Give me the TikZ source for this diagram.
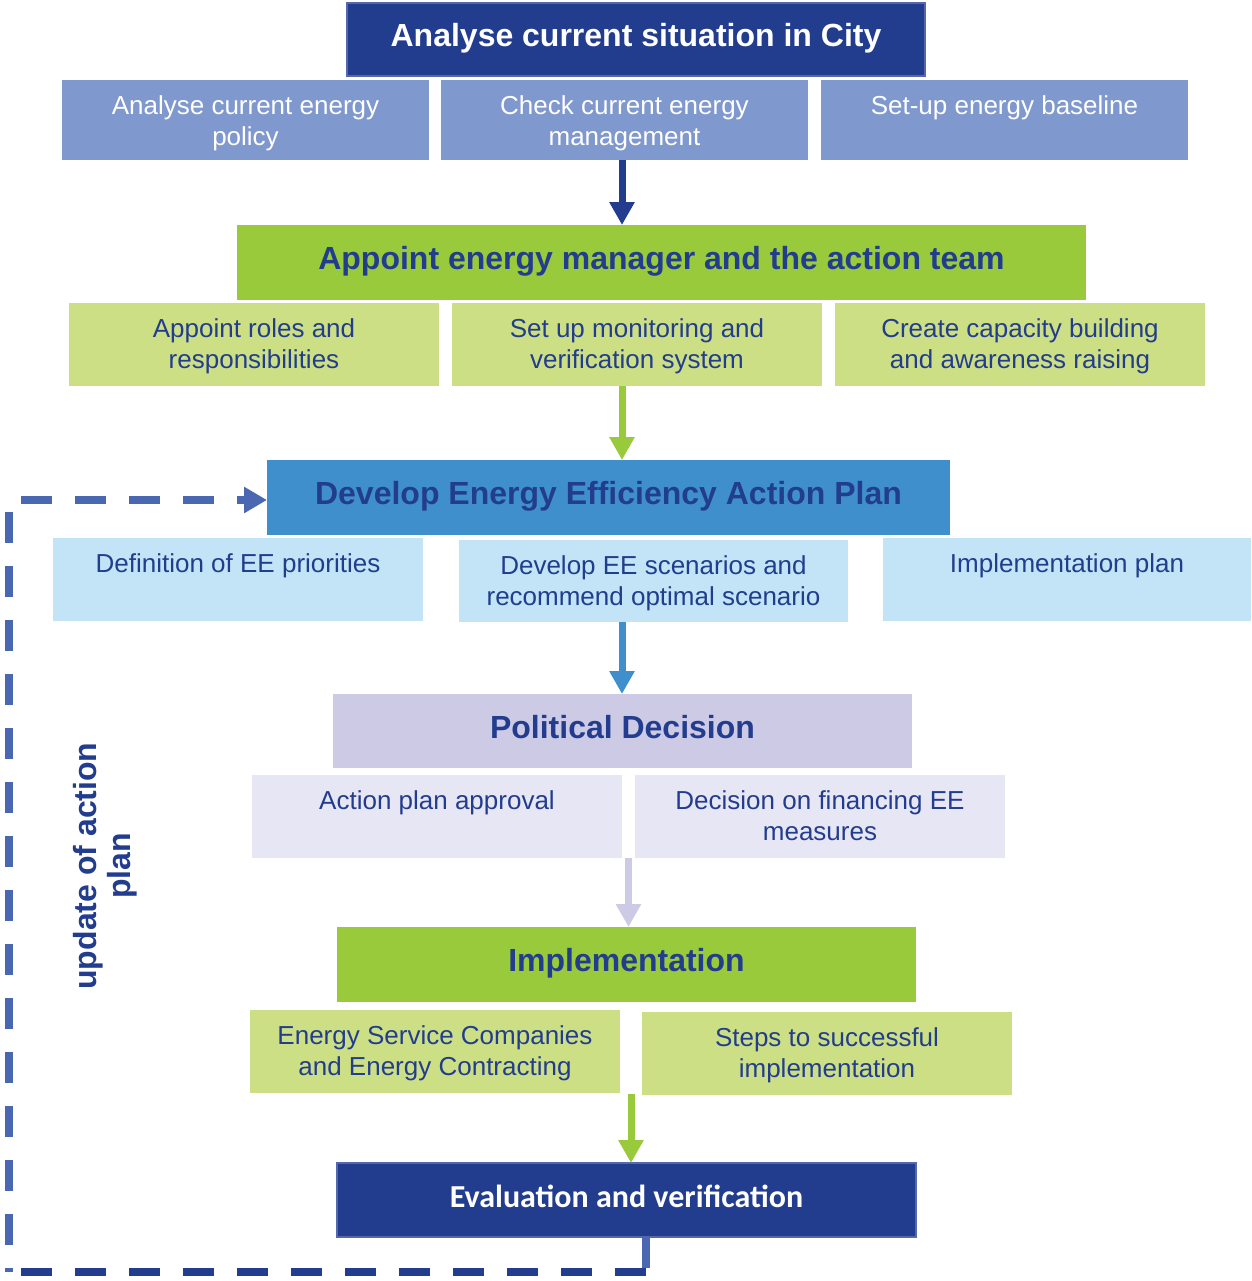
\documentclass[tikz,border=0pt]{standalone}
\usepackage{fontspec}
\setmainfont{Liberation Sans}
\newfontfamily\calfont{Carlito}
\usetikzlibrary{arrows.meta,calc}
\definecolor{navy}{HTML}{233D8E}
\definecolor{navyedge}{HTML}{5468AE}
\definecolor{steel}{HTML}{7F98CD}
\definecolor{leaf}{HTML}{99CA3C}
\definecolor{lightleaf}{HTML}{CCDF84}
\definecolor{sky}{HTML}{3F8FCD}
\definecolor{lightsky}{HTML}{C2E4F6}
\definecolor{lav}{HTML}{CDCAE6}
\definecolor{lightlav}{HTML}{E6E6F4}
\definecolor{loopblue}{HTML}{4A68B2}
\newcommand\subtxt[3]{\parbox[c][#2][t]{#1}{\fontsize{13}{15.5}\selectfont\centering\rule{0pt}{17pt}#3}}
\tikzset{
  mainbox/.style={inner sep=0pt, outer sep=0pt, font=\fontsize{16}{19}\selectfont\bfseries, text=navy, align=center, text height=11.5pt, text depth=4.5pt},
  subbox/.style={inner sep=0pt, outer sep=0pt, text=navy},
  flow/.style={line width=3.5pt, -{Triangle[length=11.5pt,width=12pt]}},
  loopline/.style={line width=4pt, dash pattern=on 15.5pt off 11.5pt},
}
\begin{document}
\begin{tikzpicture}[x=0.5pt,y=-0.5pt]
\useasboundingbox (0,0) rectangle (1252,1281);
% level 1
\node[mainbox, fill=navy, draw=navyedge, line width=0.8pt, text=white, minimum width=289pt, minimum height=36.5pt] (top) at (636,39.5) {Analyse current situation in City};
\node[subbox, fill=steel, text=white] (a1) at (245.5,120) {\subtxt{183.5pt}{40pt}{Analyse current energy\\policy}};
\node[subbox, fill=steel, text=white] (a2) at (624.5,120) {\subtxt{183.5pt}{40pt}{Check current energy\\management}};
\node[subbox, fill=steel, text=white] (a3) at (1004.5,120) {\subtxt{183.5pt}{40pt}{Set-up energy baseline}};
% level 2
\node[mainbox, fill=leaf, minimum width=424.5pt, minimum height=37.5pt] (app) at (661.5,262.5) {Appoint energy manager and the action team};
\node[subbox, fill=lightleaf] (b1) at (254,344.5) {\subtxt{185pt}{41.5pt}{Appoint roles and\\responsibilities}};
\node[subbox, fill=lightleaf] (b2) at (637,344.5) {\subtxt{185pt}{41.5pt}{Set up monitoring and\\verification system}};
\node[subbox, fill=lightleaf] (b3) at (1020,344.5) {\subtxt{185pt}{41.5pt}{Create capacity building\\and awareness raising}};
% level 3
\node[mainbox, fill=sky, minimum width=341.5pt, minimum height=37.5pt] (dev) at (608.5,497.5) {Develop Energy Efficiency Action Plan};
\node[subbox, fill=lightsky] (c1) at (238,579.5) {\subtxt{185pt}{41.5pt}{Definition of EE priorities}};
\node[subbox, fill=lightsky] (c2) at (653.5,581) {\subtxt{194.5pt}{41pt}{Develop EE scenarios and\\recommend optimal scenario}};
\node[subbox, fill=lightsky] (c3) at (1067,579.5) {\subtxt{184pt}{41.5pt}{Implementation plan}};
% level 4
\node[mainbox, fill=lav, minimum width=289.5pt, minimum height=37pt] (pol) at (622.5,731) {Political Decision};
\node[subbox, fill=lightlav] (d1) at (437,816.5) {\subtxt{185pt}{41.5pt}{Action plan approval}};
\node[subbox, fill=lightlav] (d2) at (820,816.5) {\subtxt{185pt}{41.5pt}{Decision on financing EE\\measures}};
% level 5
\node[mainbox, fill=leaf, minimum width=289.5pt, minimum height=37.5pt] (imp) at (626.5,964.5) {Implementation};
\node[subbox, fill=lightleaf] (e1) at (435,1051.5) {\subtxt{185pt}{41.5pt}{Energy Service Companies\\and Energy Contracting}};
\node[subbox, fill=lightleaf] (e2) at (827,1053.5) {\subtxt{185pt}{41.5pt}{Steps to successful\\implementation}};
% level 6
\node[mainbox, fill=navy, draw=navyedge, line width=0.6pt, text=white, font=\calfont\fontsize{16}{19}\selectfont\bfseries, minimum width=289.5pt, minimum height=37pt] (eval) at (626.5,1200) {Evaluation and verification};
% side label
\node[inner sep=0pt, rotate=90, align=center, text=navy, font=\fontsize{16}{17}\selectfont\bfseries] (upd) at (105,866) {update of action\\plan};
% flow arrows
\draw[flow, navy] ([xshift=-1.25pt]a2.south) -- ([xshift=-1.25pt]a2.south |- app.north);
\draw[flow, leaf] ([xshift=-7.5pt]b2.south) -- ([xshift=-7.5pt]b2.south |- dev.north);
\draw[flow, sky] ([xshift=-15.75pt]c2.south) -- ([xshift=-15.75pt]c2.south |- pol.north);
\draw[flow, lav] ($(d1.south east)!0.5!(d2.south west)$) coordinate (dm) -- (dm |- imp.north);
\draw[flow, leaf] ($(e1.south east)!0.5!(e2.south west)$) coordinate (em) -- (em |- eval.north);
% feedback loop
\coordinate (bl) at (9,1272);
\coordinate (tl) at (9,500);
\draw[loopline, loopblue] ([xshift=9.5pt]eval.south) coordinate (ls) -- (ls |- bl) coordinate (br);
\draw[loopline, navy] (br) -- (bl);
\draw[loopline, loopblue, dash phase=13.25pt, -{Triangle[length=11.5pt,width=12.5pt]}] (bl) -- (tl) -- (tl -| dev.west);
\end{tikzpicture}
\end{document}
